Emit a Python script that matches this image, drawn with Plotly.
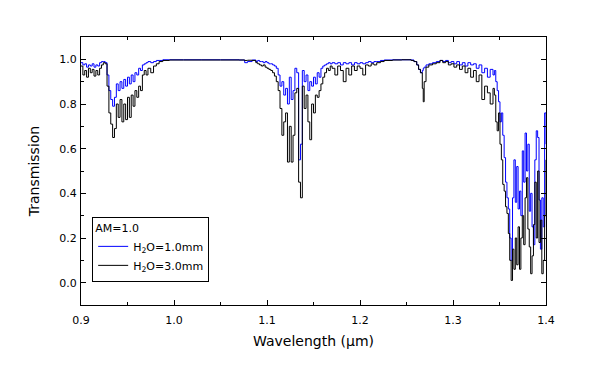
import plotly.graph_objects as go

# Wavelength grid (micrometres)
wavelength = [
    0.900, 0.902, 0.904, 0.906, 0.908, 0.910, 0.912, 0.914, 0.916, 0.918,
    0.920, 0.922, 0.924, 0.926, 0.928, 0.930, 0.932, 0.934, 0.936, 0.938,
    0.940, 0.942, 0.944, 0.946, 0.948, 0.950, 0.952, 0.954, 0.956, 0.958,
    0.960, 0.962, 0.964, 0.966, 0.968, 0.970, 0.972, 0.975, 0.978, 0.981,
    0.984, 0.988, 0.995, 1.010, 1.030, 1.050, 1.070, 1.076, 1.079, 1.084,
    1.088, 1.090, 1.092, 1.094, 1.096, 1.098, 1.100, 1.102, 1.104, 1.106,
    1.108, 1.110, 1.112, 1.114, 1.116, 1.118, 1.120, 1.122, 1.124, 1.126,
    1.128, 1.130, 1.132, 1.134, 1.136, 1.138, 1.140, 1.142, 1.144, 1.146,
    1.148, 1.150, 1.152, 1.154, 1.156, 1.158, 1.160, 1.162, 1.164, 1.166,
    1.168, 1.170, 1.173, 1.176, 1.179, 1.182, 1.185, 1.188, 1.191, 1.194,
    1.197, 1.200, 1.203, 1.206, 1.209, 1.212, 1.215, 1.218, 1.222, 1.226,
    1.235, 1.245, 1.255, 1.258, 1.261, 1.263, 1.265, 1.267, 1.268, 1.269,
    1.271, 1.274, 1.278, 1.282, 1.286, 1.289, 1.292, 1.295, 1.298, 1.301,
    1.304, 1.307, 1.310, 1.313, 1.316, 1.319, 1.322, 1.325, 1.328, 1.331,
    1.334, 1.337, 1.340, 1.343, 1.3445, 1.346, 1.3475, 1.349, 1.3505, 1.352,
    1.3535, 1.355, 1.3565, 1.358, 1.3595, 1.361, 1.3625, 1.364, 1.3655, 1.367,
    1.3685, 1.370, 1.3715, 1.373, 1.3745, 1.376, 1.3775, 1.379, 1.3805, 1.382,
    1.3835, 1.385, 1.3865, 1.388, 1.3895, 1.391, 1.3925, 1.394, 1.3955, 1.397,
    1.3985, 1.400,
]

# Transmission, H2O = 1.0 mm (blue)
t_1mm = [
    0.985, 0.975, 0.980, 0.965, 0.975, 0.970, 0.980, 0.965, 0.975, 0.970,
    0.985, 0.990, 0.990, 0.985, 0.930, 0.860, 0.820, 0.790, 0.830, 0.890,
    0.860, 0.900, 0.870, 0.910, 0.880, 0.920, 0.890, 0.930, 0.900, 0.940,
    0.930, 0.960, 0.950, 0.975, 0.980, 0.985, 0.990, 0.985, 0.990, 0.995,
    0.995, 0.998, 0.998, 0.998, 0.998, 0.998, 0.997, 0.985, 0.990, 0.997,
    0.990, 0.995, 0.990, 0.990, 0.985, 0.990, 0.985, 0.980, 0.980, 0.975,
    0.970, 0.960, 0.930, 0.880, 0.900, 0.840, 0.870, 0.800, 0.920, 0.820,
    0.860, 0.960, 0.940, 0.550, 0.620, 0.950, 0.900, 0.930, 0.860, 0.900,
    0.880, 0.920, 0.890, 0.940, 0.920, 0.960, 0.970, 0.975, 0.980, 0.985,
    0.980, 0.985, 0.980, 0.985, 0.975, 0.985, 0.980, 0.985, 0.975, 0.985,
    0.980, 0.985, 0.980, 0.985, 0.990, 0.985, 0.990, 0.990, 0.995, 0.997,
    0.998, 0.998, 0.997, 0.990, 0.975, 0.955, 0.940, 0.950, 0.960, 0.965,
    0.975, 0.980, 0.985, 0.990, 0.995, 0.990, 0.995, 0.985, 0.990, 0.980,
    0.990, 0.975, 0.985, 0.970, 0.985, 0.975, 0.980, 0.960, 0.975, 0.940,
    0.960, 0.920, 0.955, 0.930, 0.950, 0.900, 0.860, 0.810, 0.720, 0.760,
    0.660, 0.560, 0.450, 0.380, 0.330, 0.200, 0.100, 0.380, 0.550, 0.360,
    0.520, 0.330, 0.410, 0.300, 0.590, 0.450, 0.670, 0.500, 0.620, 0.320,
    0.400, 0.250, 0.170, 0.550, 0.680, 0.650, 0.370, 0.150, 0.380, 0.250,
    0.760, 0.620,
]

# Transmission, H2O = 3.0 mm (black)
t_3mm = [
    0.970, 0.930, 0.950, 0.920, 0.960, 0.940, 0.955, 0.925, 0.950, 0.930,
    0.960, 0.975, 0.985, 0.980, 0.880, 0.760, 0.710, 0.650, 0.690, 0.800,
    0.740, 0.820, 0.720, 0.800, 0.730, 0.830, 0.740, 0.840, 0.790, 0.860,
    0.830, 0.880, 0.860, 0.930, 0.950, 0.930, 0.960, 0.940, 0.970, 0.980,
    0.990, 0.995, 0.997, 0.997, 0.997, 0.997, 0.997, 0.995, 0.996, 0.995,
    0.985, 0.980, 0.975, 0.970, 0.975, 0.965, 0.960, 0.955, 0.950, 0.940,
    0.925, 0.900, 0.860, 0.780, 0.660, 0.720, 0.760, 0.540, 0.700, 0.540,
    0.660, 0.850, 0.870, 0.450, 0.380, 0.880, 0.780, 0.840, 0.720, 0.640,
    0.800, 0.760, 0.840, 0.830, 0.860, 0.890, 0.920, 0.940, 0.960, 0.950,
    0.970, 0.960, 0.930, 0.970, 0.950, 0.900, 0.960, 0.930, 0.970, 0.950,
    0.970, 0.960, 0.930, 0.975, 0.970, 0.980, 0.975, 0.985, 0.990, 0.995,
    0.997, 0.998, 0.995, 0.990, 0.975, 0.955, 0.940, 0.870, 0.810, 0.900,
    0.965, 0.975, 0.980, 0.985, 0.995, 0.985, 0.990, 0.975, 0.980, 0.965,
    0.975, 0.955, 0.970, 0.940, 0.960, 0.920, 0.950, 0.900, 0.930, 0.820,
    0.880, 0.850, 0.800, 0.870, 0.840, 0.720, 0.680, 0.760, 0.620, 0.550,
    0.440, 0.410, 0.340, 0.310, 0.220, 0.100, 0.010, 0.150, 0.060, 0.200,
    0.080, 0.250, 0.060, 0.200, 0.300, 0.170, 0.380, 0.470, 0.240, 0.160,
    0.040, 0.120, 0.260, 0.450, 0.200, 0.500, 0.180, 0.280, 0.040, 0.100,
    0.300, 0.550,
]

series_names = ["H<sub>2</sub>O=1.0mm", "H<sub>2</sub>O=3.0mm"]
series_colors = ["#0000FF", "#000000"]
legend_title = "AM=1.0"

font_family = "DejaVu Sans, Verdana, sans-serif"

fig = go.Figure()
for name, ys, col in zip(series_names, [t_1mm, t_3mm], series_colors):
    fig.add_trace(go.Scatter(
        x=wavelength, y=ys, mode="lines", name=name,
        line=dict(color=col, width=1, shape="hv"),
    ))

axis_common = dict(
    showline=True, linecolor="black", linewidth=1, mirror="allticks",
    ticks="inside", ticklen=5, tickcolor="black", tickwidth=1,
    showgrid=False, zeroline=False,
    tickfont=dict(family=font_family, size=11, color="black"),
)

# The page body has an 8px default margin, so the figure is sized to fit it.
fig.update_layout(
    width=582, height=373,
    paper_bgcolor="white", plot_bgcolor="white",
    margin=dict(l=73, r=44, t=29, b=76),
    font=dict(family=font_family, color="black"),
    xaxis=dict(
        range=[0.9, 1.4], dtick=0.1, tick0=0.9, tickformat=".1f",
        minor=dict(dtick=0.05, ticks="inside", ticklen=3, tickcolor="black"),
        ticklabelstandoff=5,
        title=dict(text="Wavelength (\u03bcm)", font=dict(size=14), standoff=9),
        **axis_common,
    ),
    yaxis=dict(
        range=[-0.1, 1.1], dtick=0.2, tick0=0, tickformat=".1f",
        minor=dict(dtick=0.1, ticks="inside", ticklen=3, tickcolor="black"),
        ticklabelstandoff=1,
        title=dict(text="Transmission", font=dict(size=14), standoff=16),
        **axis_common,
    ),
    showlegend=True,
    legend=dict(
        x=0.024, y=0.33, xanchor="left", yanchor="top",
        bgcolor="white", bordercolor="black", borderwidth=1,
        font=dict(size=11, family=font_family),
        title=dict(text=legend_title, font=dict(size=11, family=font_family)),
        tracegroupgap=2,
    ),
)

fig.write_html("out.html")
